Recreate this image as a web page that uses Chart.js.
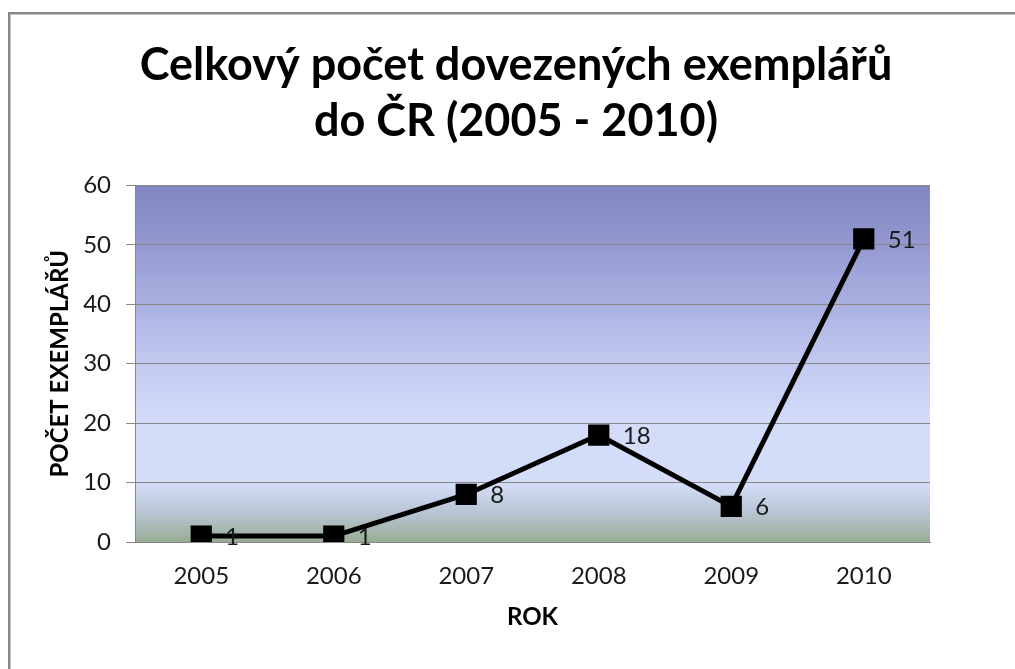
<!DOCTYPE html>
<html>
<head>
<meta charset="utf-8">
<script src="https://cdn.jsdelivr.net/npm/chart.js@4/dist/chart.umd.min.js"></script>
<style>
  html, body { margin: 0; padding: 0; background: #ffffff; }
  #wrap { width: 1015px; height: 669px; position: relative; }
</style>
</head>
<body>
<div id="wrap"><canvas id="c" width="1015" height="669"></canvas></div>
<script>
// ---- data ----
const categories = ['2005', '2006', '2007', '2008', '2009', '2010'];
const imported = [1, 1, 8, 18, 6, 51];
const yTicks = [0, 10, 20, 30, 40, 50, 60];
const titleLines = ['Celkový počet dovezených exemplářů', 'do ČR (2005 - 2010)'];
const xTitle = 'ROK';
const yTitle = 'POČET EXEMPLÁŘŮ';

const GRID = '#878787';

const framePlugin = {
  id: 'frame',
  beforeDraw(chart) {
    const ctx = chart.ctx;
    const a = chart.chartArea;
    ctx.save();
    ctx.fillStyle = '#ffffff';
    ctx.fillRect(0, 0, chart.width, chart.height);
    // outer frame (top and left only visible)
    ctx.fillStyle = '#c4c4c4';
    ctx.fillRect(8, 14, chart.width, 1);
    ctx.fillRect(10, 12, 1, chart.height);
    ctx.fillStyle = '#878787';
    ctx.fillRect(8, 12, chart.width, 2);
    ctx.fillRect(8, 12, 2, chart.height);
    // plot area gradient
    const g = ctx.createLinearGradient(0, a.top, 0, a.bottom);
    g.addColorStop(0.0, '#7f86c0');
    g.addColorStop(0.17, '#949ad0');
    g.addColorStop(0.33, '#aab1e1');
    g.addColorStop(0.5, '#c2caf1');
    g.addColorStop(0.67, '#d3dcf9');
    g.addColorStop(0.84, '#d3ddf8');
    g.addColorStop(0.92, '#b7c4d2');
    g.addColorStop(1.0, '#98ad95');
    ctx.fillStyle = g;
    ctx.fillRect(a.left, a.top, a.right - a.left, a.bottom - a.top);
    ctx.restore();
  }
};

const labelPlugin = {
  id: 'valueLabels',
  afterDatasetsDraw(chart) {
    const ctx = chart.ctx;
    const meta = chart.getDatasetMeta(0);
    const vals = chart.data.datasets[0].data;
    ctx.save();
    ctx.font = '24px Lato';
    ctx.fillStyle = '#1a1a1a';
    ctx.textAlign = 'left';
    ctx.textBaseline = 'middle';
    meta.data.forEach((pt, i) => {
      ctx.fillText(String(vals[i]), pt.x + 24, pt.y + 1);
    });
    ctx.restore();
  }
};

new Chart(document.getElementById('c'), {
  type: 'line',
  data: {
    labels: categories,
    datasets: [{
      data: imported,
      borderColor: '#000000',
      backgroundColor: '#000000',
      borderWidth: 5,
      pointStyle: 'rect',
      pointRadius: 15,
      pointBorderWidth: 0,
      pointBackgroundColor: '#000000',
      tension: 0,
      fill: false
    }]
  },
  options: {
    responsive: false,
    animation: false,
    devicePixelRatio: 1,
    layout: { padding: { left: 17, right: 0, top: 0, bottom: 0 } },
    plugins: {
      legend: { display: false },
      tooltip: { enabled: false },
      title: {
        display: true,
        text: titleLines,
        color: '#000000',
        font: { family: 'Lato', size: 45, weight: 'bold', lineHeight: 1.25 },
        padding: { top: 37, bottom: 36 }
      }
    },
    scales: {
      x: {
        offset: true,
        grid: { display: false, drawTicks: false },
        border: { display: true, color: GRID, width: 1 },
        ticks: { color: '#1a1a1a', font: { family: 'Lato', size: 24 }, padding: 20, maxRotation: 0 },
        title: {
          display: true, text: xTitle, color: '#000000',
          font: { family: 'Lato', size: 24, weight: 'bold', lineHeight: 1.2 },
          padding: { top: 0, bottom: 37 }
        },
        afterFit(scale) { scale.height = 127; }
      },
      y: {
        min: 0, max: 60,
        afterBuildTicks(scale) { scale.ticks = yTicks.map(v => ({ value: v })); },
        grid: { color: GRID, lineWidth: 1, drawTicks: true, tickLength: 9, tickColor: GRID },
        border: { display: true, color: GRID, width: 1 },
        ticks: { color: '#1a1a1a', font: { family: 'Lato', size: 24 }, padding: 15 },
        title: {
          display: true, text: yTitle, color: '#000000',
          font: { family: 'Lato', size: 24, weight: 'bold', lineHeight: 1.2 },
          padding: { top: 29, bottom: 0 }
        },
        afterFit(scale) { scale.width = 118; }
      },
      yRight: {
        position: 'right',
        display: true,
        min: 0, max: 60,
        grid: { display: false, drawTicks: false },
        border: { display: false },
        ticks: { display: false },
        afterFit(scale) { scale.width = 85; }
      }
    }
  },
  plugins: [framePlugin, labelPlugin]
});
</script>
</body>
</html>
